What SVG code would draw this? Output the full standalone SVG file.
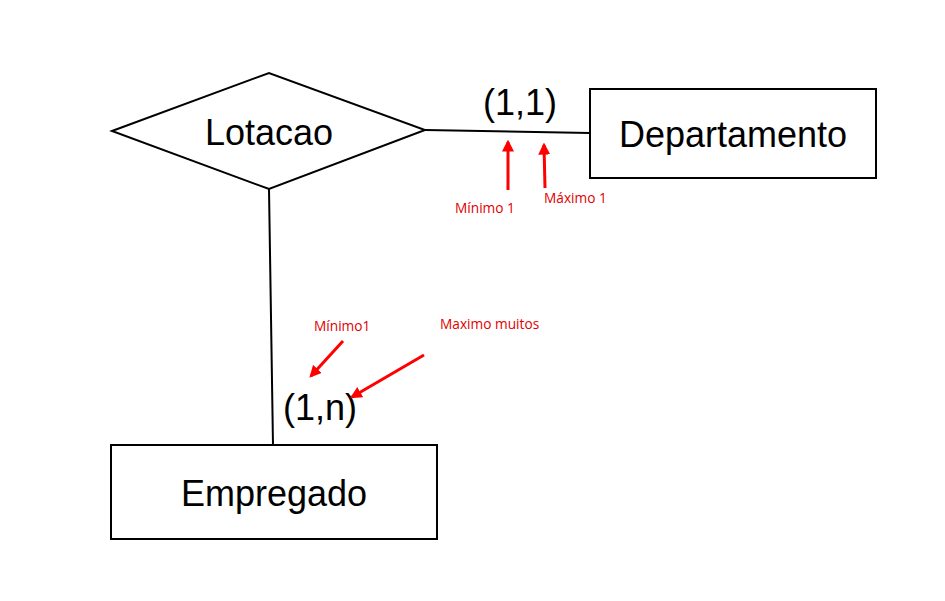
<svg xmlns="http://www.w3.org/2000/svg" width="945" height="601" viewBox="0 0 945 601">
<style>
.shape{fill:#fff;stroke:#000;stroke-width:2}
.conn{stroke:#000;stroke-width:2;fill:none}
.big{font-family:"Liberation Sans",Arial,sans-serif;font-size:36px;fill:#000}
.note{font-family:"Open Sans","Liberation Sans",sans-serif;font-size:13.7px;fill:#e00000}
.red{stroke:#ff0000;stroke-width:3;fill:none;marker-end:url(#ah)}
</style>
<defs>
<marker id="ah" viewBox="0 0 10 10" refX="8" refY="5" markerWidth="4" markerHeight="4" orient="auto" markerUnits="strokeWidth">
<path d="M0,0 L10,5 L0,10 z" fill="#ff0000"/>
</marker>
</defs>
<rect width="945" height="601" fill="#fff"/>
<g id="connectors">
<line class="conn" x1="425" y1="130" x2="590" y2="133"/>
<line class="conn" x1="269" y1="189" x2="273" y2="445"/>
</g>
<g id="lotacao">
<polygon class="shape" points="112,131 269,73 425,130 269,189"/>
<text class="big" x="269" y="145" text-anchor="middle">Lotacao</text>
</g>
<g id="departamento">
<rect class="shape" x="590" y="89" width="286" height="89"/>
<text class="big" x="733" y="147" text-anchor="middle">Departamento</text>
</g>
<g id="empregado">
<rect class="shape" x="111" y="445" width="326" height="94"/>
<text class="big" x="274" y="506" text-anchor="middle">Empregado</text>
</g>
<g id="labels">
<text class="big" x="520" y="115" text-anchor="middle">(1,1)</text>
<text class="big" x="320" y="420" text-anchor="middle">(1,n)</text>
</g>
<g id="annotations">
<line class="red" x1="508" y1="190" x2="508" y2="142"/>
<line class="red" x1="545" y1="188" x2="544" y2="145"/>
<text class="note" x="455" y="213">Mínimo 1</text>
<text class="note" x="544" y="203">Máximo 1</text>
<line class="red" x1="343" y1="341" x2="311" y2="376"/>
<text class="note" x="314" y="331">Mínimo1</text>
<line class="red" x1="424" y1="355" x2="352" y2="397"/>
<text class="note" x="440" y="329">Maximo muitos</text>
</g>
</svg>
